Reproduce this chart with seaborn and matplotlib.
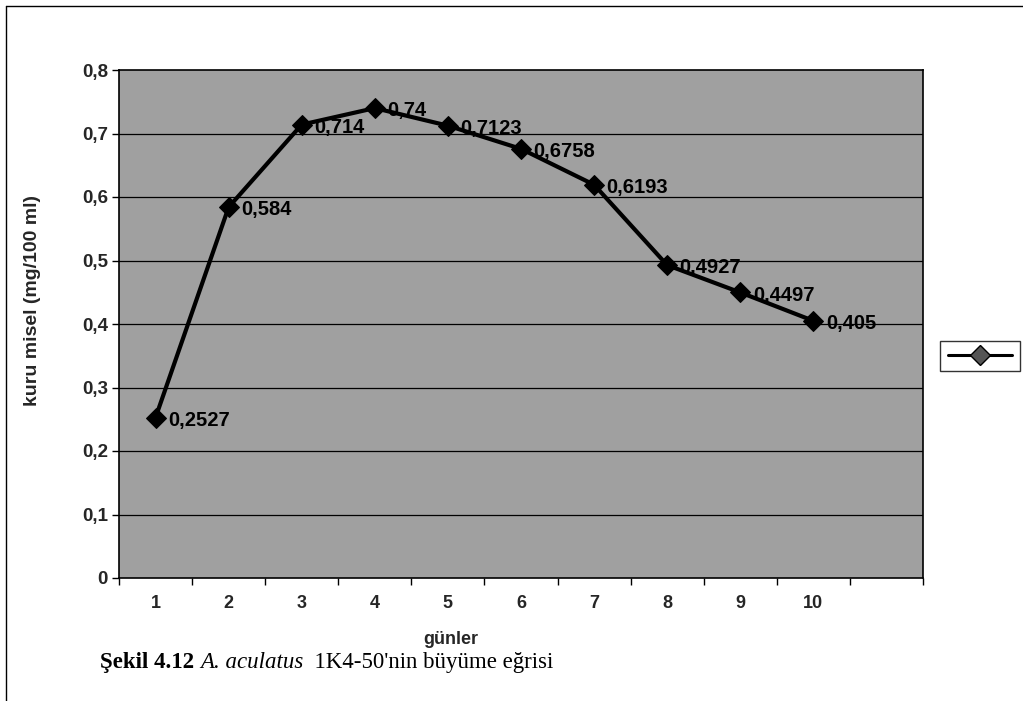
import matplotlib
matplotlib.use("Agg")
import matplotlib.pyplot as plt
import seaborn as sns
import pandas as pd
from matplotlib.lines import Line2D

days = [1, 2, 3, 4, 5, 6, 7, 8, 9, 10]
values = [0.2527, 0.584, 0.714, 0.74, 0.7123, 0.6758, 0.6193, 0.4927, 0.4497, 0.405]
value_labels = ["0,2527", "0,584", "0,714", "0,74", "0,7123", "0,6758", "0,6193", "0,4927", "0,4497", "0,405"]
y_ticks = [0, 0.1, 0.2, 0.3, 0.4, 0.5, 0.6, 0.7, 0.8]
y_tick_labels = ["0", "0,1", "0,2", "0,3", "0,4", "0,5", "0,6", "0,7", "0,8"]

sns.set_theme(style="white")
plt.rcParams['font.family'] = ['Liberation Sans', 'DejaVu Sans']

df = pd.DataFrame({"gün": days, "değer": values})

fig = plt.figure(figsize=(10.23, 7.01), dpi=100)
fig.patch.set_facecolor("white")
ax = fig.add_axes([119/1023, 1-578/701, 804/1023, 508/701])
ax.set_facecolor("#a0a0a0")

sns.lineplot(data=df, x="gün", y="değer", ax=ax, color="black", linewidth=3.0,
             marker="D", markersize=10, markeredgecolor="black", zorder=5, legend=False)

for d, v, lab in zip(days, values, value_labels):
    ax.annotate(lab, (d, v), xytext=(9, -2), textcoords="offset points",
                ha="left", va="center", fontsize=14.5, fontweight="bold", color="black", zorder=6)

ax.set_xlim(0.5, 11.5)
ax.set_ylim(0, 0.8)
ax.set_yticks(y_ticks)
ax.set_yticklabels(y_tick_labels, fontsize=13.5, fontweight="bold")
ax.set_xticks(days)
ax.set_xticklabels([str(d) for d in days], fontsize=13, fontweight="bold")
ax.set_xticks([i + 0.5 for i in range(0, 12)], minor=True)
ax.tick_params(axis="x", which="major", length=0, pad=12)
ax.tick_params(axis="x", which="minor", length=5, width=1, direction="out", color="black", bottom=True)
ax.tick_params(axis="y", which="major", length=5, width=1, direction="out", color="black", left=True, pad=3)

for yv in y_ticks[1:-1]:
    ax.axhline(yv, color="black", linewidth=0.9, zorder=1)

for s in ax.spines.values():
    s.set_color("black")
    s.set_linewidth(1.2)

ax.set_ylabel("kuru misel (mg/100 ml)", fontsize=14, fontweight="bold")
ax.yaxis.set_label_coords((33-119)/804, (578-300)/508)
ax.yaxis.label.set_va("center")
ax.set_xlabel("günler", fontsize=13, fontweight="bold")
ax.xaxis.set_label_coords((451-119)/804, (578-640)/508)
ax.xaxis.label.set_va("center")

# legend without text
handle = Line2D([0], [0], color="black", linewidth=2.2, marker="D", markersize=10,
                markerfacecolor="#555555", markeredgecolor="black")
leg = fig.legend([handle], [""], loc="center", bbox_to_anchor=(980/1023, 1-356/701),
                 frameon=True, fancybox=False, handlelength=4.6, handletextpad=0, borderpad=0.6,
                 edgecolor="black", fontsize=10)
leg.get_frame().set_linewidth(1.0)

# chart outer border
fig.add_artist(Line2D([6/1023, 6/1023], [0, 1-6/701], color="black", linewidth=1, transform=fig.transFigure))
fig.add_artist(Line2D([6/1023, 1], [1-6/701, 1-6/701], color="black", linewidth=1, transform=fig.transFigure))

# caption with mixed styles
fig.canvas.draw()
renderer = fig.canvas.get_renderer()
x = 100/1023
y = 1-668/701
parts = [("Şekil 4.12 ", "bold", "normal"), ("A. aculatus", "normal", "italic"), ("  1K4-50'nin büyüme eğrisi", "normal", "normal")]
for txt, w, st in parts:
    t = fig.text(x, y, txt, fontsize=16.5, fontweight=w, fontstyle=st, family="Liberation Serif",
                 ha="left", va="baseline", color="black")
    bb = t.get_window_extent(renderer=renderer)
    x += bb.width / fig.bbox.width

fig.savefig("out.png", dpi=100)
